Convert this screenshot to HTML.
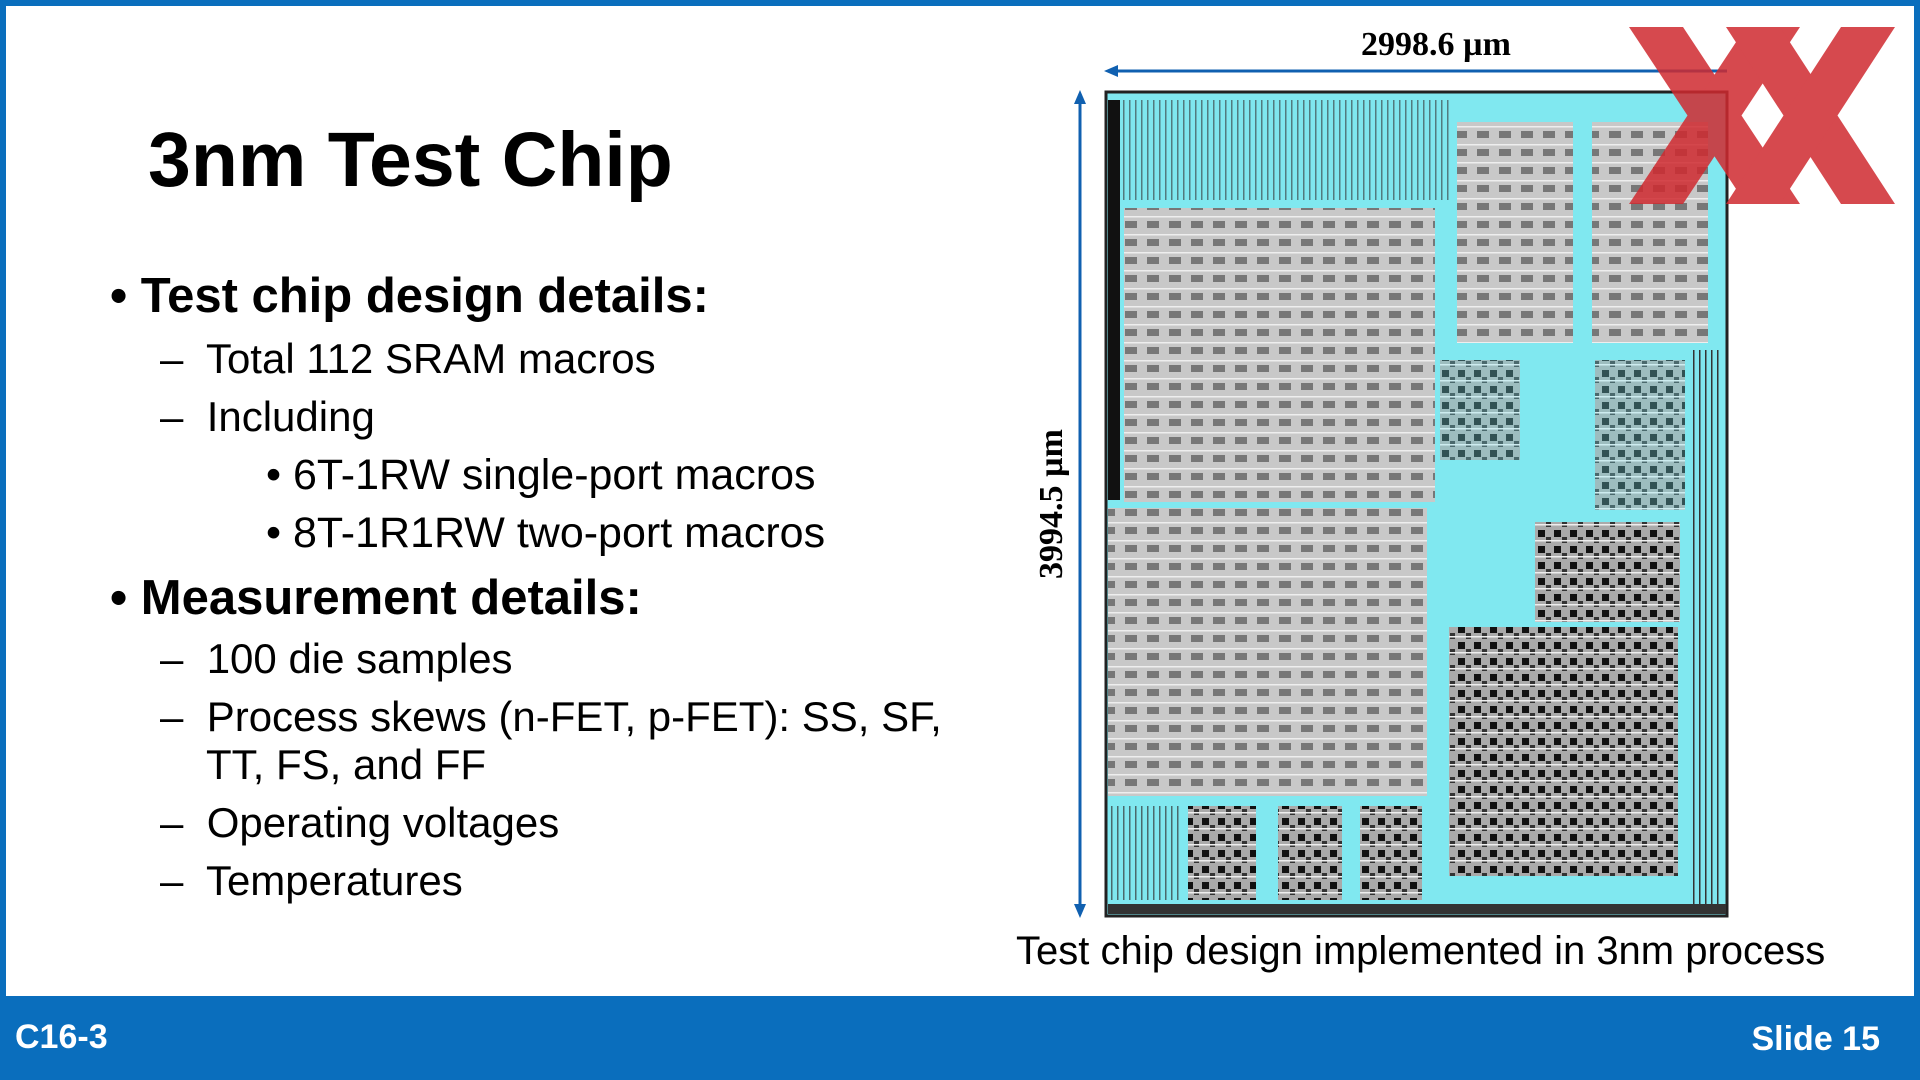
<!DOCTYPE html>
<html><head><meta charset="utf-8"><style>
body{margin:0;width:1920px;height:1080px;overflow:hidden;background:#0a6ebd;font-family:"Liberation Sans","DejaVu Sans",sans-serif;}
#w{position:absolute;left:6px;top:6px;width:1908px;height:990px;background:#fff;}
.t{position:absolute;white-space:nowrap;color:#000;}
#foot{position:absolute;left:0;top:996px;width:1920px;height:84px;background:#0a6ebd;}
</style></head><body>
<div id="w"></div>
<div class="t" style="left:148px;top:116px;font-size:77px;font-weight:bold;">3nm Test Chip</div>
<div class="t" style="left:110px;top:268px;font-size:49px;font-weight:bold;">• Test chip design details:</div>
<div class="t" style="left:160px;top:335px;font-size:42px;">–&nbsp; Total 112 SRAM macros</div>
<div class="t" style="left:160px;top:393px;font-size:42px;">–&nbsp; Including</div>
<div class="t" style="left:266px;top:451px;font-size:43px;">• 6T-1RW single-port macros</div>
<div class="t" style="left:266px;top:509px;font-size:43px;">• 8T-1R1RW two-port macros</div>
<div class="t" style="left:110px;top:570px;font-size:49px;font-weight:bold;">• Measurement details:</div>
<div class="t" style="left:160px;top:635px;font-size:42px;">–&nbsp; 100 die samples</div>
<div class="t" style="left:160px;top:693px;font-size:42px;">–&nbsp; Process skews (n-FET, p-FET): SS, SF,</div>
<div class="t" style="left:206px;top:741px;font-size:42px;">TT, FS, and FF</div>
<div class="t" style="left:160px;top:799px;font-size:42px;">–&nbsp; Operating voltages</div>
<div class="t" style="left:160px;top:857px;font-size:42px;">–&nbsp; Temperatures</div>
<div class="t" style="left:1016px;top:929px;font-size:40px;">Test chip design implemented in 3nm process</div>

<svg style="position:absolute;left:0;top:0" width="1920" height="1080">
<defs>
<pattern id="g" width="22" height="18" patternUnits="userSpaceOnUse"><rect width="22" height="18" fill="#c8c8c8"/><rect x="3" y="5" width="12" height="7" fill="#777"/><rect x="0" y="0" width="22" height="1.5" fill="#eee"/></pattern>
<pattern id="d" width="16" height="16" patternUnits="userSpaceOnUse"><rect width="16" height="16" fill="#aaa"/><rect x="2" y="2" width="7" height="7" fill="#111"/><rect x="10" y="9" width="5" height="6" fill="#333"/><rect x="0" y="12" width="16" height="1.5" fill="#eee"/></pattern>
<pattern id="v" width="6" height="10" patternUnits="userSpaceOnUse"><rect width="6" height="10" fill="#7fe6ef"/><rect x="1" width="1.5" height="10" fill="#333"/></pattern>
</defs>
<rect x="1106" y="92" width="621" height="824" fill="#80e8f0" stroke="#222" stroke-width="3"/>
<rect x="1108" y="100" width="12" height="400" fill="#111"/>
<rect x="1120" y="100" width="330" height="100" fill="url(#v)" opacity="0.6"/>
<rect x="1124" y="208" width="311" height="294" fill="url(#g)"/>
<rect x="1108" y="508" width="319" height="288" fill="url(#g)"/>
<rect x="1457" y="122" width="116" height="221" fill="url(#g)"/>
<rect x="1592" y="122" width="116" height="221" fill="url(#g)"/>
<rect x="1449" y="627" width="229" height="249" fill="url(#d)"/>
<rect x="1535" y="522" width="145" height="100" fill="url(#d)"/>
<rect x="1440" y="360" width="80" height="100" fill="url(#d)" opacity="0.7"/>
<rect x="1595" y="360" width="90" height="150" fill="url(#d)" opacity="0.7"/>
<rect x="1188" y="806" width="68" height="94" fill="url(#d)"/>
<rect x="1278" y="806" width="64" height="94" fill="url(#d)"/>
<rect x="1360" y="806" width="62" height="94" fill="url(#d)"/>
<rect x="1110" y="806" width="70" height="94" fill="url(#v)" opacity="0.7"/>
<rect x="1690" y="350" width="30" height="560" fill="url(#v)"/>
<rect x="1108" y="904" width="618" height="10" fill="#333"/>
<line x1="1112" y1="71" x2="1727" y2="71" stroke="#1060b0" stroke-width="3"/>
<polygon points="1104,71 1118,65 1118,77" fill="#1060b0"/>
<line x1="1080" y1="98" x2="1080" y2="910" stroke="#1060b0" stroke-width="3"/>
<polygon points="1080,90 1074,104 1086,104" fill="#1060b0"/>
<polygon points="1080,918 1074,904 1086,904" fill="#1060b0"/>
<text x="1436" y="55" font-family="Liberation Serif,serif" font-weight="bold" font-size="34" text-anchor="middle">2998.6 µm</text>
<text transform="translate(1062,504) rotate(-90)" font-family="Liberation Serif,serif" font-weight="bold" font-size="34" text-anchor="middle">3994.5 µm</text>
<g fill="#d02a30" opacity="0.85">
<polygon points="1629,27 1683,27 1800,204 1746,204"/>
<polygon points="1800,27 1746,27 1629,204 1683,204"/>
<polygon points="1726,27 1780,27 1895,204 1841,204"/>
<polygon points="1895,27 1841,27 1726,204 1780,204"/>
</g>
</svg>
<div id="foot"></div>
<div class="t" style="left:15px;top:1018px;font-size:34px;font-weight:bold;color:#fff;">C16-3</div>
<div class="t" style="right:40px;top:1020px;font-size:34px;font-weight:bold;color:#fff;">Slide 15</div>
</body></html>
